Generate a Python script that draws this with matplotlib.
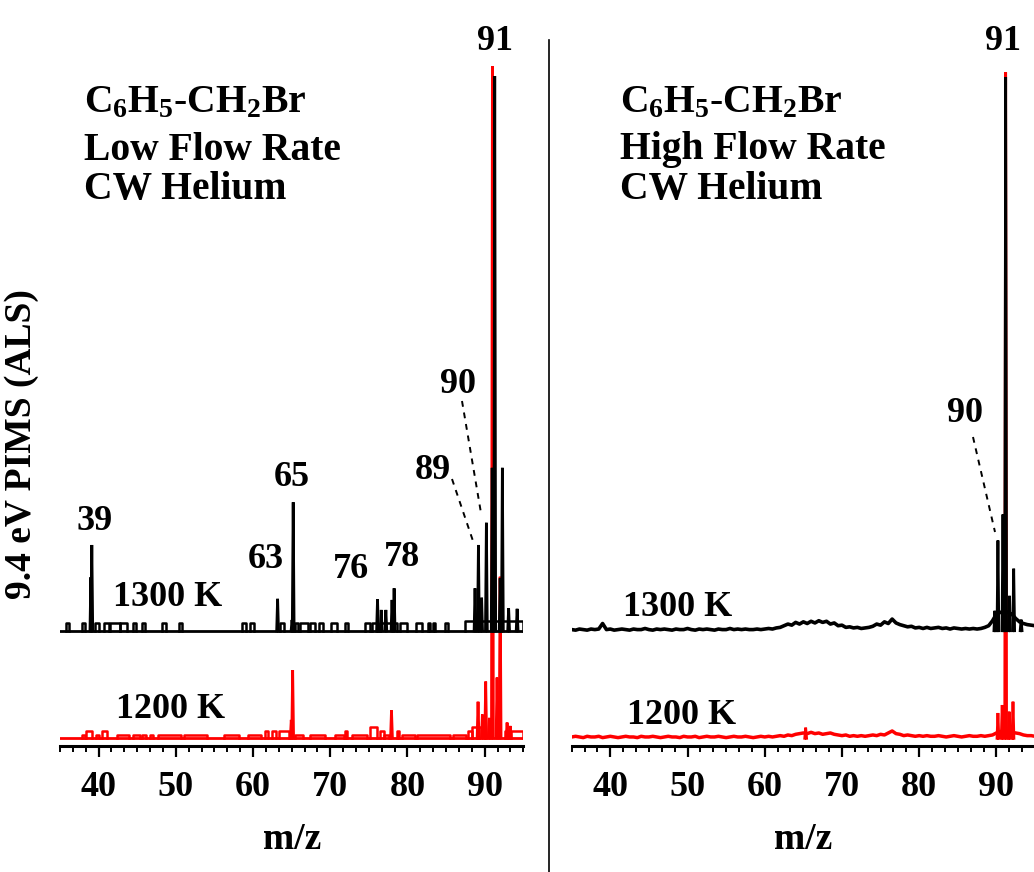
import numpy as np
import matplotlib
matplotlib.use("Agg")
import matplotlib.pyplot as plt
from matplotlib.lines import Line2D
from matplotlib.ticker import MultipleLocator, FixedLocator

# ---------------- data: intensities in % of the m/z 91 signal ----------------
# Low flow rate, 1300 K (black): resolved peaks
low_1300_mz = [39.0, 39.12, 63.18, 65.05, 65.2, 76.12, 76.6, 77.2, 78.0, 78.27,
               88.75, 89.19, 89.6, 90.22, 90.97, 91.3, 92.0, 92.29, 93.1, 94.2]
low_1300_pct = [9.7, 15.5, 5.8, 2.0, 23.2, 5.7, 3.8, 3.8, 5.6, 7.7,
                7.7, 15.5, 6.0, 19.5, 29.4, 100.0, 9.5, 29.4, 4.1, 4.0]
# Low flow rate, 1300 K: single-count blips (start m/z, end m/z, %)
low_1300_blip_start = [35.80, 37.87, 39.47, 40.68, 41.51, 42.76, 44.47, 45.64, 48.22, 50.46,
                       58.57, 59.56, 63.44, 65.40, 66.11, 67.40, 68.48, 70.07, 71.92, 74.51,
                       75.37, 76.45, 79.04, 81.11, 82.61, 83.26, 84.85, 87.40]
low_1300_blip_end = [36.23, 38.30, 40.03, 41.41, 42.76, 43.62, 44.90, 46.07, 48.74, 50.80,
                     59.08, 60.07, 64.04, 65.80, 67.06, 68.05, 69.12, 70.85, 72.35, 75.16,
                     76.02, 78.61, 79.99, 81.84, 82.92, 83.56, 85.20, 95.00]
low_1300_blip_pct = [1.4] * 27 + [1.8]

# Low flow rate, 1200 K (red): resolved peaks
low_1200_mz = [64.95, 65.13, 77.93, 89.14, 89.7, 90.13, 90.6, 91.0, 91.6, 92.0, 92.9, 93.3]
low_1200_pct = [2.7, 10.1, 4.1, 5.4, 3.5, 8.4, 3.0, 100.0, 9.0, 24.0, 2.3, 1.8]
# Low flow rate, 1200 K: baseline blips
low_1200_blip_start = [37.9, 38.4, 39.7, 40.5, 42.4, 44.4, 45.6, 46.6, 47.7, 51.0,
                       56.2, 59.4, 61.5, 62.5, 63.4, 65.4, 67.4, 70.6, 71.9, 72.8,
                       75.2, 76.4, 77.0, 78.6, 79.3, 81.2, 85.9, 87.8, 88.4, 89.3, 92.6, 93.4]
low_1200_blip_end = [38.3, 39.1, 40.1, 41.1, 43.9, 45.3, 46.1, 47.0, 50.7, 54.0,
                     58.2, 61.0, 61.9, 63.0, 64.6, 66.5, 69.3, 71.8, 72.2, 74.7,
                     76.0, 76.9, 77.6, 78.9, 81.0, 85.5, 87.6, 88.4, 89.0, 90.0, 93.0, 95.0]
low_1200_blip_pct = [0.5, 1.1, 0.5, 1.1, 0.5, 0.5, 0.5, 0.5, 0.5, 0.5,
                     0.5, 0.5, 1.1, 1.1, 1.1, 0.5, 0.5, 0.5, 1.1, 0.5,
                     1.7, 1.1, 0.5, 1.1, 0.5, 0.5, 0.5, 1.1, 1.6, 1.6, 1.1, 1.1]

# High flow rate: continuous baseline sampled every 0.5 m/z from 35 to 95
high_bg_mz = np.arange(35.0, 95.001, 0.5)
high_1300_bg = [0.2, 0.1, 0.3, 0.2, 0.1, 0.3, 0.2, 0.3, 1.3, 0.2,
                0.3, 0.1, 0.2, 0.3, 0.2, 0.1, 0.3, 0.2, 0.2, 0.4,
                0.2, 0.1, 0.3, 0.2, 0.3, 0.2, 0.1, 0.3, 0.2, 0.2,
                0.4, 0.2, 0.1, 0.3, 0.2, 0.3, 0.2, 0.1, 0.3, 0.2,
                0.2, 0.4, 0.2, 0.3, 0.2, 0.3, 0.2, 0.2, 0.3, 0.2,
                0.3, 0.4, 0.3, 0.5, 0.6, 0.9, 1.2, 1.0, 1.5, 1.2,
                1.6, 1.3, 1.7, 1.4, 1.8, 1.5, 1.7, 1.2, 1.4, 0.9,
                1.0, 0.6, 0.7, 0.5, 0.6, 0.4, 0.5, 0.6, 0.8, 1.2,
                1.0, 1.6, 1.3, 2.1, 1.4, 1.1, 0.9, 0.7, 0.8, 0.5,
                0.6, 0.4, 0.6, 0.4, 0.5, 0.6, 0.4, 0.5, 0.3, 0.5,
                0.4, 0.3, 0.4, 0.3, 0.4, 0.3, 0.4, 0.6, 0.9, 1.8,
                3.0, 3.3, 3.5, 3.3, 3.0, 2.2, 1.6, 1.3, 1.1, 1.0,
                0.9]
high_1200_bg = [0.2, 0.3, 0.2, 0.1, 0.3, 0.2, 0.2, 0.3, 0.1, 0.2,
                0.3, 0.2, 0.1, 0.2, 0.3, 0.2, 0.2, 0.1, 0.3, 0.2,
                0.2, 0.3, 0.2, 0.1, 0.2, 0.3, 0.2, 0.2, 0.1, 0.3,
                0.2, 0.2, 0.3, 0.1, 0.2, 0.3, 0.2, 0.2, 0.3, 0.2,
                0.1, 0.2, 0.3, 0.2, 0.2, 0.3, 0.2, 0.1, 0.2, 0.3,
                0.2, 0.3, 0.2, 0.3, 0.4, 0.3, 0.5, 0.4, 0.6, 0.7,
                0.8, 0.7, 0.9, 0.7, 0.8, 0.6, 0.7, 0.8, 0.6, 0.5,
                0.4, 0.5, 0.3, 0.4, 0.3, 0.4, 0.3, 0.4, 0.5, 0.4,
                0.6, 0.5, 0.8, 1.1, 0.7, 0.6, 0.4, 0.5, 0.4, 0.3,
                0.4, 0.3, 0.4, 0.3, 0.3, 0.4, 0.3, 0.2, 0.3, 0.4,
                0.3, 0.2, 0.3, 0.4, 0.3, 0.3, 0.4, 0.3, 0.4, 0.5,
                0.8, 1.0, 1.2, 1.0, 0.9, 0.8, 0.7, 0.5, 0.4, 0.4,
                0.3]
high_1300_mz = [89.8, 90.2, 90.85, 91.2, 91.7, 92.24, 93.2]
high_1300_pct = [3.6, 16.3, 21.0, 100.0, 6.3, 11.2, 2.0]
high_1200_mz = [65.3, 90.2, 90.75, 91.2, 91.65, 92.15]
high_1200_pct = [1.6, 3.8, 5.0, 100.0, 4.0, 5.5]

# annotations
low_peak_labels = ["39", "63", "65", "76", "78", "89", "90", "91"]
low_label_xy = [(95, 521), (266, 559), (292, 477), (351, 569), (402, 557),
                (433, 470), (458, 384), (495, 42)]
high_peak_labels = ["90", "91"]
high_label_xy = [(965, 413), (1003, 42)]
title_lines_low = ["C$_6$H$_5$-CH$_2$Br", "Low Flow Rate", "CW Helium"]
title_lines_high = ["C$_6$H$_5$-CH$_2$Br", "High Flow Rate", "CW Helium"]
temps = ["1300 K", "1200 K"]
x_ticks = [40, 50, 60, 70, 80, 90]

# ---------------- figure ----------------
W, H = 1034, 872
plt.rcParams['font.family'] = ['Liberation Serif', 'DejaVu Serif']
plt.rcParams['font.weight'] = 'bold'
plt.rcParams['mathtext.fontset'] = 'custom'
plt.rcParams['mathtext.rm'] = 'Liberation Serif:bold'
plt.rcParams['mathtext.it'] = 'Liberation Serif:bold'
plt.rcParams['mathtext.bf'] = 'Liberation Serif:bold'

fig = plt.figure(figsize=(W / 100, H / 100), dpi=100)


def fx(x):
    return x / W


def fy(y):
    return 1 - y / H


AX_TOP = 20
AX_BOT = 746
LW = 2.0
HW = 0.12  # half base width of a peak, m/z


def make_axes(left_px):
    ax = fig.add_axes([fx(left_px), fy(AX_BOT), 463.3 / W, (AX_BOT - AX_TOP) / H])
    ax.set_xlim(35, 95)
    ax.set_ylim(0, AX_BOT - AX_TOP)
    for s in ['left', 'right', 'top']:
        ax.spines[s].set_visible(False)
    ax.spines['bottom'].set_linewidth(2.2)
    ax.set_yticks([])
    ax.xaxis.set_major_locator(FixedLocator(x_ticks))
    ax.xaxis.set_minor_locator(MultipleLocator(10 / 6))
    ax.tick_params(axis='x', which='major', direction='out', length=8, width=1.6,
                   labelsize=26, pad=10)
    ax.tick_params(axis='x', which='minor', direction='out', length=4.5, width=1.4)
    for lab in ax.get_xticklabels():
        lab.set_fontweight('bold')
    ax.set_xlabel("m/z", fontsize=27, fontweight='bold', labelpad=13)
    ax.patch.set_alpha(0)
    return ax


def draw_peaks(ax, mz, pct, base, scale, color, z):
    for m, p in zip(mz, pct):
        ax.plot([m - HW, m, m + HW], [base, base + p * scale / 100, base],
                color=color, lw=LW, zorder=z, solid_joinstyle='miter')


def draw_blips(ax, starts, ends, pct, base, scale, color, z):
    ax.plot([35, 95], [base, base], color=color, lw=LW, zorder=z)
    for a, b, p in zip(starts, ends, pct):
        top = base + p * scale / 100
        ax.plot([a, a, b, b], [base, top, top, base], color=color, lw=1.8, zorder=z)


# left panel: low flow rate
axL = make_axes(60)
draw_blips(axL, low_1200_blip_start, low_1200_blip_end, low_1200_blip_pct, 8, 672, 'red', 2)
draw_peaks(axL, low_1200_mz, low_1200_pct, 8, 672, 'red', 2)
draw_blips(axL, low_1300_blip_start, low_1300_blip_end, low_1300_blip_pct, 115, 555, 'black', 3)
draw_peaks(axL, low_1300_mz, low_1300_pct, 115, 555, 'black', 3)

# right panel: high flow rate
axR = make_axes(571.7)
axR.plot(high_bg_mz, 7.7 + np.array(high_1200_bg) * 666 / 100, color='red', lw=2.5, zorder=2)
draw_peaks(axR, high_1200_mz, high_1200_pct, 7.7, 666, 'red', 2)
axR.plot(high_bg_mz, 115.3 + np.array(high_1300_bg) * 553.7 / 100, color='black', lw=2.6, zorder=3)
draw_peaks(axR, high_1300_mz, high_1300_pct, 115.3, 553.7, 'black', 3)

# panel separator
fig.add_artist(Line2D([fx(549), fx(549)], [fy(40), fy(H)], color='black', lw=1.2))

# text
TXT = dict(fontsize=26, fontweight='bold', ha='center', va='center')
for lab, (x, y) in zip(low_peak_labels, low_label_xy):
    fig.text(fx(x), fy(y), lab, **TXT)
for lab, (x, y) in zip(high_peak_labels, high_label_xy):
    fig.text(fx(x), fy(y), lab, **TXT)

for x0, lines in [(84, title_lines_low), (620, title_lines_high)]:
    for line, y in zip(lines, [103, 150, 189]):
        fig.text(fx(x0), fy(y), line, fontsize=28.5, fontweight='bold', ha='left', va='center')

for (x, y), t in zip([(168, 597), (171, 710), (678, 607), (682, 715)], temps * 2):
    fig.text(fx(x), fy(y), t, **TXT)

fig.text(fx(22), fy(444), "9.4 eV PIMS (ALS)", fontsize=27, fontweight='bold',
         rotation=90, ha='center', va='center')

# dashed leader lines
for (x1, y1), (x2, y2) in [((452, 479), (473, 541)), ((462, 401), (481, 513)),
                           ((973, 437), (995, 532))]:
    fig.add_artist(Line2D([fx(x1), fx(x2)], [fy(y1), fy(y2)], color='black', lw=1.4,
                          linestyle=(0, (3, 3))))

fig.savefig("out.png", dpi=100)
